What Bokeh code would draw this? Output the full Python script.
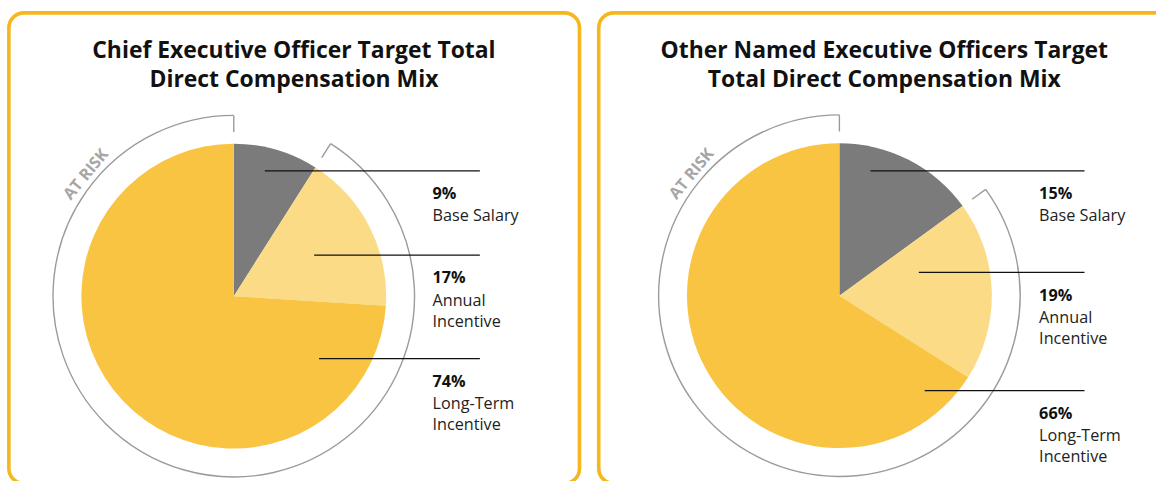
import math
from bokeh.plotting import figure
from bokeh.models import Range1d, BoxAnnotation
from bokeh.core.properties import value
from bokeh.embed import file_html
from bokeh.resources import INLINE

# ---------------- data ----------------
titles = [
    ["Chief Executive Officer Target Total", "Direct Compensation Mix"],
    ["Other Named Executive Officers Target", "Total Direct Compensation Mix"],
]
components = ["Base Salary", "Annual Incentive", "Long-Term Incentive"]
label_lines = [["Base Salary"], ["Annual", "Incentive"], ["Long-Term", "Incentive"]]
ceo_pct = [9, 17, 74]
neo_pct = [15, 19, 66]
at_risk_text = "AT RISK"

# ---------------- style / layout ----------------
W, H = 1156, 481            # figure size in screen px
RW, RH = 1172, 497          # design frame (data units)
SX, SY = W / RW, H / RH     # screen px per data unit
S = (SX + SY) / 2
FONT = "Open Sans"
colors = ["#7B7B7B", "#FCDB87", "#FAC443"]
border_color = "#F6B71E"
arc_color = "#9B9B9B"

def Y(py):  # design y (downwards) -> data y (upwards)
    return RH - py

def fs(px):
    return "%.1fpx" % (px * S)

panels = [
    dict(pct=ceo_pct, title=titles[0], box=(8.5, 587), title_cx=297.5,
         cx=236.5, cy=305.5, line_y=[176, 263, 370], line_x0=[268, 318, 323],
         line_x1=486, label_x=438),
    dict(pct=neo_pct, title=titles[1], box=(606.5, 1200), title_cx=896,
         cx=850.5, cy=305, line_y=[176, 281, 403], line_x0=[882, 931, 937],
         line_x1=1099, label_x=1053),
]
R_PIE = 156 * S
R_ARC = 185 * S
TICK = 17 * S
R_TXT = 197 * S

p = figure(width=W, height=H, output_backend="svg", toolbar_location=None,
           x_range=Range1d(0, RW), y_range=Range1d(0, RH), min_border=0)
p.axis.visible = False
p.grid.visible = False
p.outline_line_color = None
p.background_fill_color = "white"

def pt(cx, cy, r, a):
    """point at screen radius r and screen angle a from data centre"""
    return cx + r * math.cos(a) / SX, cy + r * math.sin(a) / SY

for pn in panels:
    # panel border
    p.add_layout(BoxAnnotation(left=pn["box"][0], right=pn["box"][1],
                               top=Y(12.8), bottom=Y(499),
                               fill_color=None, fill_alpha=0,
                               line_color=border_color, line_alpha=1.0,
                               line_width=3.6, border_radius=15))
    # titles
    for i, t in enumerate(pn["title"]):
        p.text(x=[pn["title_cx"]], y=[Y(51 + 30 * i)], text=[t],
               text_font=value(FONT), text_font_style="bold",
               text_font_size=fs(23.4), text_align="center",
               text_baseline="alphabetic", text_color="#111111")
    # pie wedges (clockwise from 12 o'clock)
    cx, cy = pn["cx"], Y(pn["cy"])
    total = float(sum(pn["pct"]))
    cum = 0.0
    starts, ends = [], []
    for v in pn["pct"]:
        starts.append(math.pi / 2 - 2 * math.pi * (cum + v) / total)
        ends.append(math.pi / 2 - 2 * math.pi * cum / total)
        cum += v
    p.wedge(x=[cx] * 3, y=[cy] * 3, radius=R_PIE, radius_units="screen",
            start_angle=starts, end_angle=ends, fill_color=colors,
            line_color=None)
    # AT RISK bracket: all but base salary
    a_top = ends[0]
    a_cut = starts[0]
    p.arc(x=[cx], y=[cy], radius=R_ARC, radius_units="screen",
          start_angle=a_top, end_angle=a_cut, direction="anticlock",
          line_color=arc_color, line_width=1.4)
    for a in (a_top, a_cut):
        x0, y0 = pt(cx, cy, R_ARC, a)
        x1, y1 = pt(cx, cy, R_ARC - TICK, a)
        p.segment(x0=[x0], y0=[y0], x1=[x1], y1=[y1],
                  line_color=arc_color, line_width=1.4)
    ang = math.radians(140.5)
    tx, ty = pt(cx, cy, R_TXT, ang)
    p.text(x=[tx], y=[ty], text=[at_risk_text], angle=ang - math.pi / 2,
           text_font=value(FONT), text_font_style="bold",
           text_font_size=fs(16.5), text_align="center",
           text_baseline="middle", text_color="#A6A6A6")
    # leader lines and labels
    for k, v in enumerate(pn["pct"]):
        ly = pn["line_y"][k]
        p.segment(x0=[pn["line_x0"][k]], y0=[Y(ly)], x1=[pn["line_x1"]],
                  y1=[Y(ly)], line_color="#111111", line_width=1.3)
        p.text(x=[pn["label_x"]], y=[Y(ly + 23)], text=["%d%%" % v],
               text_font=value(FONT), text_font_style="bold",
               text_font_size=fs(16.6), text_baseline="alphabetic",
               text_color="#111111")
        for j, ln in enumerate(label_lines[k]):
            p.text(x=[pn["label_x"]], y=[Y(ly + 46 + 22 * j)], text=[ln],
                   text_font=value(FONT), text_font_size=fs(16.6),
                   text_baseline="alphabetic", text_color="#222222")

open("out.html", "w").write(file_html(p, INLINE))
